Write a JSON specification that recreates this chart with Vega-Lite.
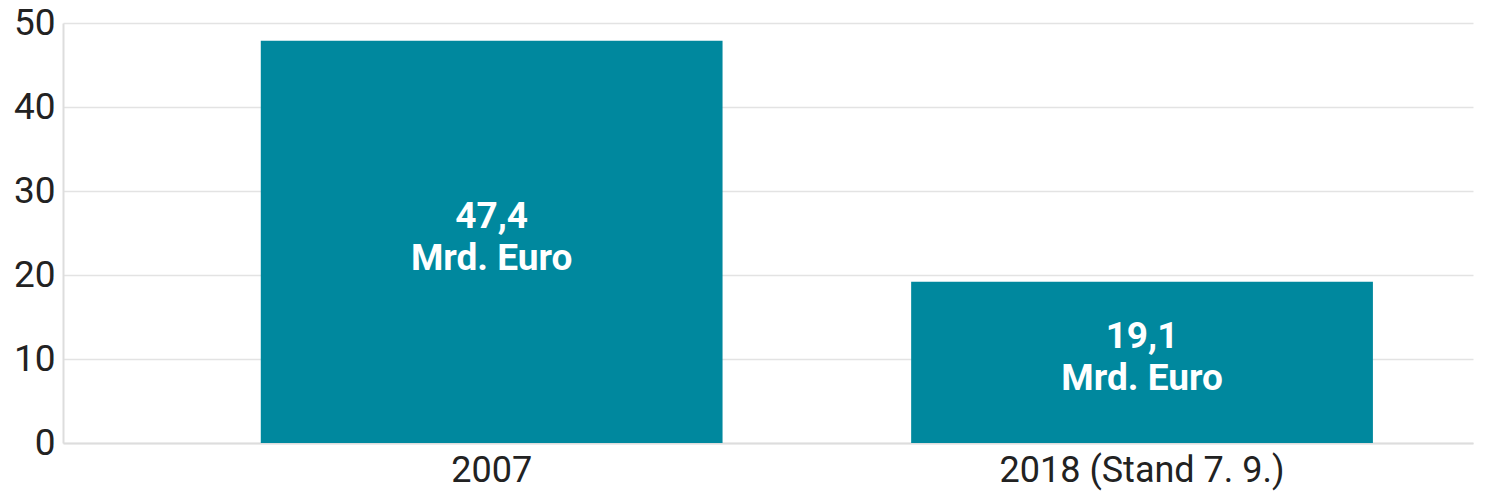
{
  "$schema": "https://vega.github.io/schema/vega-lite/v6.json",
  "width": 1410,
  "height": 420,
  "autosize": "none",
  "padding": {"left": 63, "top": 23, "right": 27, "bottom": 55},
  "background": "white",
  "config": {
    "view": {"stroke": null},
    "font": "Roboto"
  },
  "data": {
    "values": [
      {"jahr": "2007", "wert": 47.9, "text": "47,4\nMrd. Euro"},
      {"jahr": "2018  (Stand 7. 9.)", "wert": 19.2, "text": "19,1\nMrd. Euro"}
    ]
  },
  "encoding": {
    "x": {
      "field": "jahr",
      "type": "nominal",
      "sort": null,
      "scale": {"paddingInner": 0.29, "paddingOuter": 0.229, "align": 0.664},
      "axis": {
        "title": null,
        "labelAngle": 0,
        "labelFontSize": 36,
        "labelLimit": 0,
        "labelColor": "#222222",
        "labelPadding": 10,
        "ticks": false,
        "domainColor": "#dddddd",
        "domainWidth": 2
      }
    }
  },
  "layer": [
    {
      "mark": {"type": "bar", "color": "#00889E"},
      "encoding": {
        "y": {
          "field": "wert",
          "type": "quantitative",
          "scale": {"domain": [0, 50]},
          "axis": {
            "title": null,
            "values": [0, 10, 20, 30, 40, 50],
            "labelFontSize": 37,
            "labelColor": "#222222",
            "labelPadding": 8,
            "ticks": false,
            "domainColor": "#dddddd",
            "domainWidth": 2,
            "gridColor": "#e3e3e3",
            "gridWidth": 1.5
          }
        }
      }
    },
    {
      "transform": [{"calculate": "datum.wert / 2", "as": "mitte"}],
      "mark": {
        "type": "text",
        "color": "white",
        "fontSize": 37,
        "fontWeight": "bold",
        "lineBreak": "\n",
        "lineHeight": 42,
        "baseline": "middle",
        "align": "center",
        "dy": -25
      },
      "encoding": {
        "y": {"field": "mitte", "type": "quantitative"},
        "text": {"field": "text"}
      }
    }
  ]
}
